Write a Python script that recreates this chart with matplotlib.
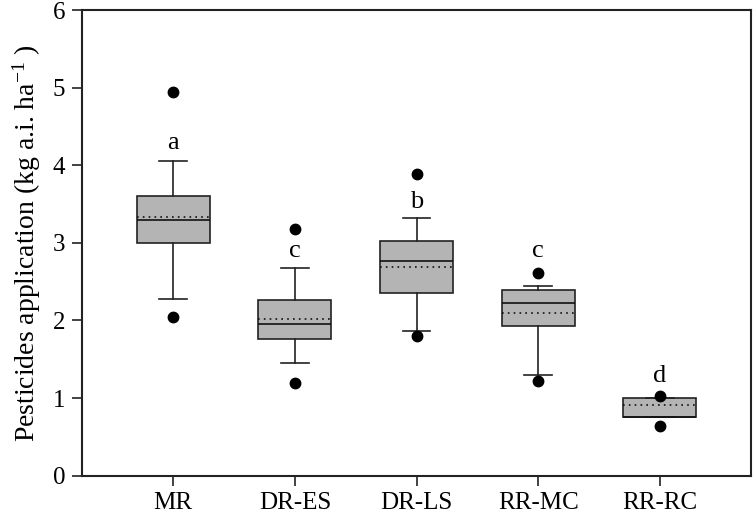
import matplotlib
matplotlib.use("Agg")
import matplotlib.pyplot as plt
import numpy as np

plt.rcParams['font.family'] = ['Liberation Serif', 'DejaVu Serif']
plt.rcParams['mathtext.fontset'] = 'custom'
plt.rcParams['mathtext.rm'] = 'Liberation Serif'
plt.rcParams['mathtext.it'] = 'Liberation Serif:italic'

categories = ['MR', 'DR-ES', 'DR-LS', 'RR-MC', 'RR-RC']
q1 = [3.00, 1.76, 2.35, 1.93, 0.75]
q3 = [3.60, 2.27, 3.03, 2.39, 1.00]
medians = [3.30, 1.95, 2.76, 2.22, 0.75]
means = [3.33, 2.02, 2.69, 2.10, 0.91]
whislo = [2.28, 1.45, 1.87, 1.30, 0.75]
whishi = [4.06, 2.67, 3.32, 2.45, 1.00]
fliers = [[4.94, 2.04], [3.18, 1.19], [3.89, 1.80], [2.61, 1.22], [1.03, 0.64]]
letters = ['a', 'c', 'b', 'c', 'd']
letter_y = [4.29, 2.89, 3.53, 2.90, 1.28]

fig = plt.figure(figsize=(7.54, 5.17), dpi=100)
ax = fig.add_axes([82/754, 1-475.7/517, (751-82)/754, (475.7-10)/517])

stats = []
for i in range(len(categories)):
    stats.append(dict(med=medians[i], q1=q1[i], q3=q3[i], whislo=whislo[i],
                      whishi=whishi[i], mean=means[i], fliers=fliers[i]))

pos = np.arange(1, len(categories) + 1)
ax.bxp(stats, positions=pos, widths=0.6, patch_artist=True,
       showmeans=True, meanline=True, capwidths=0.23,
       boxprops=dict(facecolor='#b4b4b4', edgecolor='#222222', linewidth=1.2),
       medianprops=dict(color='#111111', linewidth=1.2),
       meanprops=dict(color='#111111', linestyle=(0, (1, 2.5)), linewidth=1.2),
       whiskerprops=dict(color='#222222', linewidth=1.2),
       capprops=dict(color='#222222', linewidth=1.2),
       flierprops=dict(marker='o', markerfacecolor='black', markeredgecolor='black',
                       markersize=7.5, linestyle='none'))

for p, l, y in zip(pos, letters, letter_y):
    ax.text(p, y, l, ha='center', va='center', fontsize=19)

ax.set_xlim(0.25, 5.75)
ax.set_ylim(0, 6)
ax.set_yticks(range(0, 7))
ax.set_xticks(pos)
ax.set_xticklabels(categories)
ax.tick_params(direction='out', length=7, width=1.2, labelsize=18, pad=5, colors='#222222', labelcolor='black')
ax.tick_params(axis='x', pad=5)
for s in ax.spines.values():
    s.set_linewidth(1.5)
    s.set_color('#222222')
ax.set_ylabel(r'Pesticides application (kg a.i. ha$^{-1}$ )', fontsize=20, labelpad=7)

fig.savefig('out.png', dpi=100)
